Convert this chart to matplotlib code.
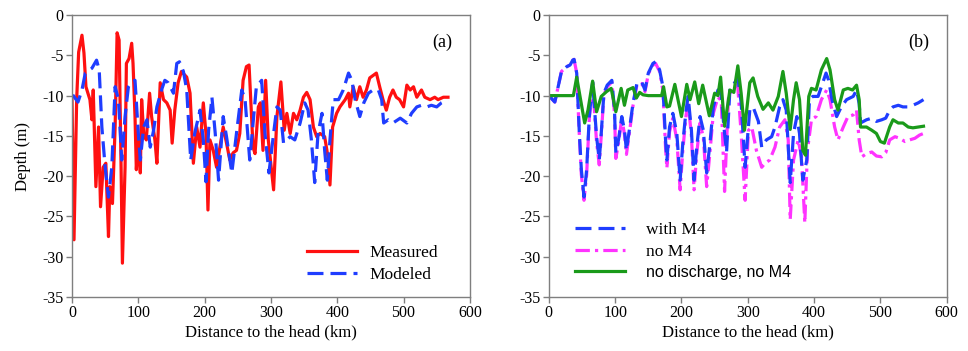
import numpy as np
import matplotlib
matplotlib.use("Agg")
import matplotlib.pyplot as plt

plt.rcParams['font.family'] = ['Liberation Serif', 'DejaVu Serif']
plt.rcParams['axes.unicode_minus'] = False
plt.rcParams['lines.solid_joinstyle'] = 'round'
plt.rcParams['lines.dash_joinstyle'] = 'round'

# (a) measured vs modeled depth along the channel
meas_km = [0, 3, 7, 10, 15, 18, 21, 27, 30, 32, 36, 40, 43, 47, 51, 55, 57, 61, 65, 68,
           71, 74, 76, 80, 82, 86, 90, 92, 95, 97, 100, 103, 105, 108, 112, 117, 120, 125,
           128, 133, 138, 143, 148, 151, 155, 160, 165, 173, 178, 183, 188, 193, 198, 202,
           205, 208, 213, 218, 223, 228, 233, 238, 243, 248, 253, 258, 263, 267, 273, 276,
           281, 284, 288, 292, 296, 304, 309, 315, 320, 324, 329, 334, 339, 344, 349, 354,
           359, 364, 369, 374, 381, 386, 389, 393, 399, 404, 412, 417, 419, 424, 429, 434,
           439, 444, 449, 459, 464, 469, 474, 479, 484, 489, 494, 500, 505, 510, 515, 520,
           527, 532, 540, 547, 552, 560, 567]
meas_depth = [-10.5, -27.9, -10.5, -4.6, -2.5, -4.7, -8.9, -10.5, -13, -9.3, -21.3, -13.9,
              -23.8, -18.9, -18.4, -27.5, -21.3, -23.4, -13.9, -2.2, -3.1, -18.9, -30.8,
              -18.9, -6, -5.4, -3.5, -6, -12.6, -19.2, -15.1, -19.6, -10.5, -14.7, -15.5,
              -9.7, -12.6, -15.5, -18.4, -8.4, -10.5, -10.9, -11.8, -15.9, -11.8, -8.4, -7,
              -7.7, -9.7, -18.4, -13.9, -16.4, -10.9, -14.7, -24.2, -15.5, -16.8, -18.9,
              -16.4, -13.9, -15.9, -18, -17.1, -16.8, -14.7, -8.1, -6.4, -6.2, -16.4, -17.2,
              -11.4, -10.9, -16.8, -8.1, -15.5, -21.7, -12.6, -8.3, -14.3, -12.2, -14.7,
              -12.2, -13, -11.8, -10.2, -9.6, -10.5, -13.9, -15.1, -14.7, -15.1, -17.6,
              -21.1, -13.9, -12.2, -11.4, -10.5, -9.7, -11.4, -8.9, -10.5, -8.9, -10.2,
              -9.3, -7.8, -7.2, -8.9, -10.5, -11.8, -10.2, -9.3, -10.2, -10.5, -11.4, -8.7,
              -9.3, -8.9, -10.2, -9.3, -10.2, -10.5, -10.2, -10.5, -10.2, -10.2]

mod_km = [1, 9, 15, 20, 30, 37, 41, 45, 50, 55, 60, 65, 70, 75, 80, 85, 90, 95, 100, 103,
          108, 113, 118, 123, 128, 135, 140, 145, 153, 158, 162, 168, 173, 179, 185, 193,
          198, 202, 206, 211, 216, 221, 228, 233, 241, 248, 256, 261, 268, 278, 286, 291,
          297, 304, 309, 314, 319, 324, 329, 336, 344, 351, 356, 361, 366, 371, 377, 381,
          385, 389, 394, 402, 409, 417, 422, 427, 434, 440, 447, 454, 462, 467, 470, 477,
          484, 495, 505, 512, 520, 527, 535, 542, 550, 557, 567]
mod_depth = [-9.9, -10.8, -9.3, -7.2, -6.6, -5.6, -6.8, -13.9, -18.9, -22.6, -18.9, -8.9,
             -10.5, -18, -12.6, -8.9, -8.3, -8.1, -14.7, -18, -13.9, -13, -16.4, -14.3,
             -11.4, -9.3, -8.1, -8.4, -9.7, -6, -5.8, -7, -9.3, -18, -14.7, -11.8, -15.5,
             -20.7, -14.3, -10.2, -14.7, -20.5, -12.6, -15.1, -19.6, -14.7, -9.3, -10.5,
             -18, -8.9, -8.1, -14.7, -19.6, -14.7, -11.4, -11.8, -15.9, -15.5, -15.1,
             -15.5, -13.4, -10.9, -11.8, -15.5, -20.8, -14.7, -12.2, -16.8, -20.5, -15.5,
             -10.5, -10.5, -9.3, -7.2, -8.1, -10.5, -12.6, -10.9, -9.7, -9.3, -9.3, -10.5,
             -13.4, -13, -13.4, -12.8, -13.4, -12.2, -11.4, -11.2, -11.4, -11.2, -11.4,
             -10.9, -10.5]

# (b) model runs with / without M4 tide and river discharge
m4_km = [0, 9, 14, 19, 27, 32, 36, 38, 42, 46, 49, 53, 57, 61, 66, 69, 72, 76, 79, 83, 88,
         95, 99, 101, 105, 110, 114, 117, 122, 127, 133, 140, 145, 150, 157, 161, 167, 172,
         176, 178, 182, 187, 193, 198, 202, 207, 210, 215, 219, 223, 228, 233, 238, 243,
         248, 255, 260, 264, 268, 273, 285, 290, 296, 303, 308, 316, 321, 328, 336, 341,
         348, 353, 358, 364, 369, 374, 378, 383, 389, 393, 398, 406, 411, 418, 422, 427,
         434, 441, 449, 459, 464, 468, 470, 479, 487, 494, 502, 508, 514, 519, 527, 534,
         542, 549, 557, 565]
m4_depth = [-10, -10.8, -8.9, -7, -6.4, -6.2, -5.6, -5.5, -7.2, -14.7, -19.2, -22.6, -19.2,
            -12.6, -8.3, -11.8, -15.1, -18, -14.7, -9.7, -8.7, -8.1, -11.8, -17.1, -15.5,
            -12.6, -14.3, -16.8, -13.9, -10.9, -8.4, -8.3, -9.3, -7.2, -6, -5.8, -6.8, -8.9,
            -15.5, -18, -13.9, -12.2, -14.7, -20.5, -15.9, -11.8, -10.1, -14.3, -20.5,
            -16.4, -12.6, -14.3, -19.6, -15.9, -11.4, -9.3, -9.9, -13.9, -17, -9.3, -7.8,
            -10.9, -18.9, -11.8, -11.4, -13.2, -16.4, -15.5, -15.1, -13.9, -11.4, -10.5,
            -11.8, -20.8, -14.7, -12.6, -14.7, -20.5, -18, -10.5, -10.1, -10.1, -8.9, -7.2,
            -8.1, -10.5, -12.6, -11.4, -10.5, -10.1, -9.3, -11, -13.4, -13, -12.8, -13.2,
            -13, -12.8, -11.8, -11.4, -11.2, -11.4, -11.4, -11.2, -10.9, -10.5]

nom4_km = [0, 9, 14, 19, 27, 32, 36, 38, 42, 46, 49, 53, 57, 61, 66, 69, 72, 76, 79, 83,
           88, 95, 99, 101, 105, 110, 114, 117, 122, 127, 133, 140, 145, 150, 157, 161,
           167, 172, 176, 178, 182, 187, 193, 198, 202, 207, 210, 215, 219, 223, 228, 233,
           238, 243, 248, 255, 260, 265, 271, 282, 285, 290, 296, 301, 306, 313, 321, 326,
           333, 341, 348, 356, 361, 364, 369, 376, 381, 386, 390, 396, 403, 411, 419, 424,
           431, 436, 444, 451, 459, 464, 468, 472, 479, 487, 494, 502, 508, 514, 522, 529,
           537, 544, 552, 559, 565]
nom4_depth = [-10, -10.8, -8.9, -7, -6.4, -6.2, -5.6, -5.5, -7.2, -15, -19.8, -23, -19.8,
              -12.8, -8.4, -12.2, -15.8, -18.6, -15, -9.9, -8.9, -8.3, -12.2, -17.8, -15.9,
              -12.8, -14.8, -17.3, -14.3, -11.2, -8.6, -8.5, -9.5, -7.3, -6.2, -6, -7, -9.3,
              -16.5, -19, -14.5, -12.8, -15.5, -21.7, -16.8, -12.4, -10.8, -15, -21.7,
              -17.2, -13.4, -15.2, -21.3, -17, -12.2, -10.2, -10.6, -21.9, -10, -8.7, -9,
              -14.7, -23, -14.3, -13.9, -16.8, -18.9, -18.4, -18, -16.4, -13.9, -13, -15.5,
              -25.4, -18, -15.5, -17.6, -25.8, -16.8, -13, -12.6, -10.5, -9.3, -10.5, -13.9,
              -15.5, -13.9, -12.6, -12.4, -11.8, -15.5, -17.6, -17.2, -17, -17.5, -17.6,
              -17.1, -15.5, -15.1, -15.3, -15.7, -15.5, -15.3, -14.9, -14.7]

noq_km = [0, 37, 42, 47, 54, 59, 66, 72, 79, 87, 94, 101, 109, 114, 119, 127, 132, 137,
          142, 150, 170, 173, 178, 182, 190, 200, 208, 213, 220, 226, 232, 242, 250, 255,
          259, 265, 273, 279, 285, 290, 295, 303, 308, 315, 323, 331, 338, 346, 353, 358,
          364, 369, 373, 378, 383, 387, 392, 396, 403, 411, 419, 424, 431, 436, 444, 451,
          458, 464, 468, 470, 479, 487, 494, 500, 506, 514, 519, 527, 534, 542, 549, 557,
          565]
noq_depth = [-10, -10, -7.7, -10.1, -13.4, -11.8, -8.2, -12, -10.1, -9.5, -9.1, -12, -9.1,
             -11.2, -9.3, -9, -10.3, -9.6, -9.9, -10, -10, -8.9, -11.4, -11.3, -8.6, -12.6,
             -8.6, -10.5, -8.3, -11, -8.7, -12.5, -9.7, -10, -7.7, -13.8, -9.3, -9.6, -6.3,
             -9.7, -14.3, -8.4, -7.8, -10.1, -11.7, -10.9, -11.8, -10.1, -7, -9.7, -14.2,
             -10.5, -8.4, -10.5, -16.8, -17.4, -10.1, -9.1, -9.3, -6.8, -5.4, -6.8, -10.5,
             -11.8, -9.3, -9.1, -9.3, -8.7, -10.5, -13.9, -13.9, -14.3, -14.7, -15.7, -15.9,
             -13.9, -13, -13.4, -13.4, -13.9, -14, -13.9, -13.8]

x_ticks = [0, 100, 200, 300, 400, 500, 600]
y_ticks = [0, -5, -10, -15, -20, -25, -30, -35]

RED = '#ff1010'
BLUE = '#1f3dff'
PINK = '#ff33ff'
GREEN = '#1a9a1a'
LW = 2.3
DASH = (0, (5, 2.2))
DASHDOT = (0, (4.5, 1.6, 1.0, 1.6))

fig = plt.figure(figsize=(9.68, 3.51), dpi=100)
ax1 = fig.add_axes([0.0744, 0.154, 0.411, 0.803])
ax2 = fig.add_axes([0.567, 0.154, 0.411, 0.803])

for ax in (ax1, ax2):
    ax.set_xlim(0, 600)
    ax.set_ylim(-35, 0)
    ax.set_xticks(x_ticks)
    ax.set_yticks(y_ticks)
    for sp in ax.spines.values():
        sp.set_color('#7f7f7f')
        sp.set_linewidth(1.0)
    ax.tick_params(direction='out', length=4, width=1, color='#7f7f7f',
                   labelsize=11.5, pad=2)
    ax.set_xlabel('Distance to the head (km)', fontsize=12, labelpad=2)

ax1.set_ylabel('Depth (m)', fontsize=12, labelpad=8)

ax1.plot(meas_km, meas_depth, color=RED, lw=LW, label='Measured')
ax1.plot(mod_km, mod_depth, color=BLUE, lw=LW, linestyle=DASH, label='Modeled')
ax1.text(0.955, 0.935, '(a)', transform=ax1.transAxes, ha='right', va='top',
         fontsize=13)
ax1.legend(loc='lower left', bbox_to_anchor=(0.59, 0.05), frameon=False,
           fontsize=12.5, handlelength=2.9, handletextpad=0.7, labelspacing=0.35,
           borderpad=0, borderaxespad=0)

l_pink, = ax2.plot(nom4_km, nom4_depth, color=PINK, lw=LW, linestyle=DASHDOT,
                   label='no M4')
l_blue, = ax2.plot(m4_km, m4_depth, color=BLUE, lw=LW, linestyle=DASH,
                   label='with M4')
l_green, = ax2.plot(noq_km, noq_depth, color=GREEN, lw=LW,
                    label='no discharge, no M4')
ax2.text(0.955, 0.935, '(b)', transform=ax2.transAxes, ha='right', va='top',
         fontsize=13)
leg = ax2.legend([l_blue, l_pink, l_green],
                 ['with M4', 'no M4', 'no discharge, no M4'],
                 loc='lower left', bbox_to_anchor=(0.065, 0.06), frameon=False,
                 fontsize=12.5, handlelength=2.9, handletextpad=1.2,
                 labelspacing=0.3, borderpad=0, borderaxespad=0)
leg.get_texts()[2].set_fontfamily(['Liberation Sans', 'DejaVu Sans'])
leg.get_texts()[2].set_fontsize(11.5)

fig.savefig('out.png', dpi=100)
